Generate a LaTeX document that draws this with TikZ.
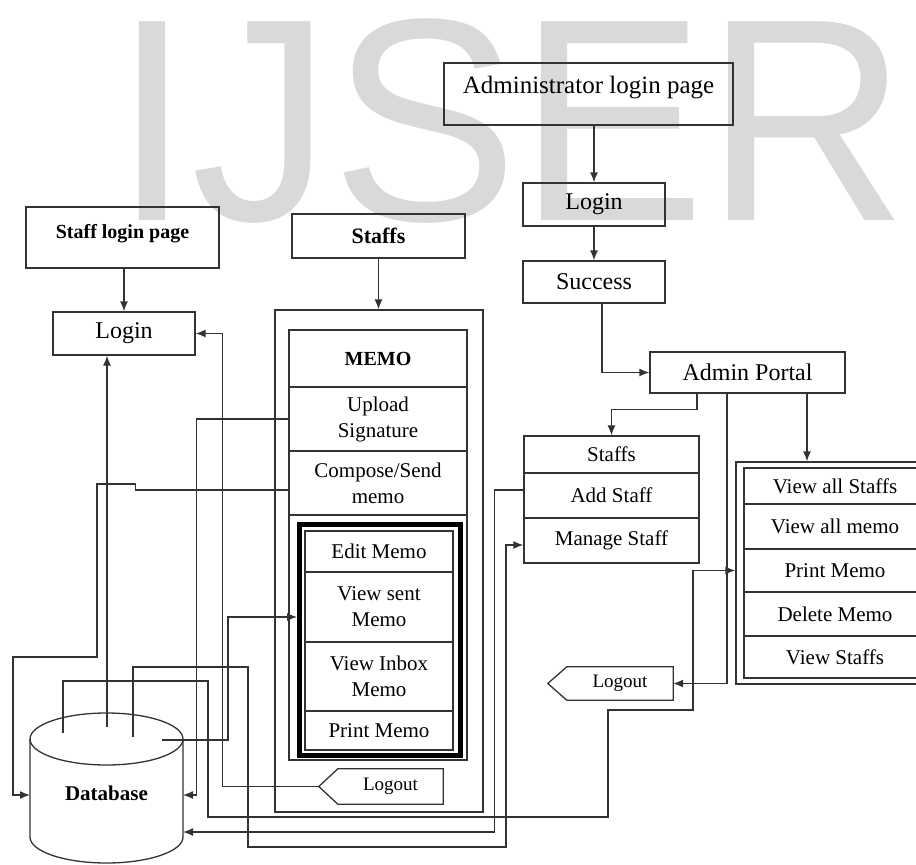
\documentclass[tikz,border=0pt]{standalone}
\usepackage{fontspec}
\setmainfont{Liberation Serif}
\newfontfamily\wmfont{Liberation Sans}
\usetikzlibrary{arrows.meta}

\tikzset{
  box/.style={draw=black!80, line width=1.3pt, inner sep=0pt, align=center, font=\fontsize{21}{26}\selectfont},
  big/.style={font=\fontsize{24}{28}\selectfont},
  wire/.style={draw=black!80, line width=1.3pt},
  arr/.style={wire, -{Latex[length=10pt,width=8pt]}},
}

\begin{document}
\begin{tikzpicture}[x=1pt,y=-1pt]
\useasboundingbox (0,0) rectangle (916,865);

% watermark
\node[anchor=base west, inner sep=0pt, xscale=0.97, transform shape, text=black!15, font=\wmfont\fontsize{289}{289}\selectfont] (wm) at (113,220) {IJSER};

% Admin side
\node[box, font=\fontsize{25}{28}\selectfont, minimum width=289pt, text height=30pt, text depth=32pt] (admpage) at (588.5,94) {Administrator login page};
\node[box, big, minimum width=142pt, minimum height=43pt] (admlogin) at (594,204.5) {Login};
\node[box, big, minimum width=142pt, minimum height=42pt] (success) at (594,282) {Success};
\node[box, big, minimum width=195pt, minimum height=41pt] (portal) at (747.5,372.5) {Admin Portal};

% admin staffs box
\node[box, minimum width=175pt, minimum height=37pt] (sthead) at (611.5,454.5) {Staffs};
\node[box, minimum width=175pt, minimum height=45pt] (add) at (611.5,495.5) {Add Staff};
\node[box, minimum width=175pt, minimum height=45pt] (manage) at (611.5,540.5) {Manage Staff};

% admin functions
\node[box, minimum width=198pt, minimum height=222pt] (panel) at (835,573) {};
\node[box, minimum width=182pt, minimum height=36pt] (vas) at (835,486) {View all Staffs};
\node[box, minimum width=182pt, minimum height=45pt] (vam) at (835,526.5) {View all memo};
\node[box, minimum width=182pt, minimum height=43pt] (pm) at (835,570.5) {Print Memo};
\node[box, minimum width=182pt, minimum height=44pt] (dm) at (835,614) {Delete Memo};
\node[box, minimum width=182pt, minimum height=42pt] (vs) at (835,657) {View Staffs};

% admin logout
\node[inner sep=0pt, minimum width=106pt, minimum height=33pt, font=\fontsize{19}{22}\selectfont] (lout2) at (620,683.5) {Logout};
\draw[wire] (lout2.north east) -- (lout2.north west) -- ([xshift=-19pt]lout2.west) -- (lout2.south west) -- (lout2.south east) -- cycle;

% Staff side
\node[box, font=\bfseries\fontsize{20}{24}\selectfont, minimum width=193pt, text height=31pt, text depth=30pt] (staffpage) at (122.5,237.5) {Staff login page};
\node[box, big, minimum width=142pt, minimum height=43pt] (slogin) at (124,333.5) {Login};
\node[box, font=\bfseries\fontsize{22}{26}\selectfont, minimum width=173pt, minimum height=44pt] (staffs) at (378.5,236) {Staffs};

% memo container
\node[box, minimum width=208pt, minimum height=502pt] (cont) at (379,561) {};
\node[box, minimum width=178pt, minimum height=430pt] (memobox) at (378,545) {};
\node[box, font=\bfseries\fontsize{20}{24}\selectfont, minimum width=178pt, minimum height=57pt] (memo) at (378,358.5) {MEMO};
\node[box, minimum width=178pt, minimum height=64pt] (upl) at (378,419) {Upload\\Signature};
\node[box, minimum width=178pt, minimum height=64pt] (comp) at (378,483) {Compose/Send\\memo};
\node[draw=black, line width=5pt, inner sep=0pt, minimum width=161pt, minimum height=231.5pt] (sub) at (380,639.75) {};
\node[box, minimum width=148pt, minimum height=41pt] (edit) at (379,551.5) {Edit Memo};
\node[box, minimum width=148pt, minimum height=70pt] (vsent) at (379,607) {View sent\\Memo};
\node[box, minimum width=148pt, minimum height=69pt] (vinbox) at (379,676.5) {View Inbox\\Memo};
\node[box, minimum width=148pt, minimum height=39pt] (prnt) at (379,730.5) {Print Memo};

% staff logout
\node[inner sep=0pt, minimum width=105pt, minimum height=35pt, font=\fontsize{19}{22}\selectfont] (lout1) at (390.5,786.5) {Logout};
\draw[wire] (lout1.north east) -- (lout1.north west) -- ([xshift=-19pt]lout1.west) -- (lout1.south west) -- (lout1.south east) -- cycle;
\coordinate (lout1tip) at ([xshift=-19pt]lout1.west);

% Database
\draw[wire] (30,739) -- (30,837) arc[start angle=180, end angle=0, x radius=76.5, y radius=26] -- (183,739);
\draw[wire] (106.5,739) ellipse [x radius=76.5, y radius=26];
\node[font=\bfseries\fontsize{21}{25}\selectfont] (db) at (106.5,793) {Database};
\coordinate (dbW) at (30,795);
\coordinate (dbE1) at (183,795);
\coordinate (dbE2) at (183,832);
\coordinate (dbT1) at (63,733);
\coordinate (dbT2) at (107,727);
\coordinate (dbT3) at (133,737);
\coordinate (dbT4) at (162,740);

% admin flow
\draw[arr] (admlogin.north |- admpage.south) -- (admlogin.north);
\draw[arr] (admlogin.south) -- (success.north);
\draw[arr] ([xshift=8pt]success.south) |- (portal.west);
\draw[arr] ([xshift=-50.5pt]portal.south) -- ++(0,16) -| (sthead.north);
\draw[arr] ([xshift=-20.5pt]portal.south) |- (lout2.east);
\draw[arr] ([xshift=59.5pt]portal.south) -- ([xshift=59.5pt]portal.south |- panel.north);

% staff flow
\draw[arr] (slogin.north |- staffpage.south) -- (slogin.north);
\draw[arr] (staffs.south) -- (staffs.south |- cont.north);
\draw[arr] (dbT2) -- (dbT2 |- slogin.south);
\draw[arr] (lout1tip) -- ++(-96,0) |- (slogin.east);

% database links
\draw[arr] (upl.west) -- ++(-92,0) |- (dbE1);
\draw[arr] ([yshift=-7pt]comp.west) -- ++(-153,0) |- (97,484) |- (13,657) |- (dbW);
\draw[arr] (dbT4) -- ++(66,0) |- ([yshift=-10pt]vsent.west -| sub.west);
\draw[arr] (dbT3) |- (248,667) |- (506,847) |- ([yshift=-4.5pt]manage.west);
\draw[arr] ([yshift=5.5pt]add.west) -- ++(-29,0) |- (dbE2);
\draw[arr] (dbT1) |- (208,681) |- (608,817) |- (693,710) |- (panel.west |- pm.west);

\end{tikzpicture}
\end{document}
